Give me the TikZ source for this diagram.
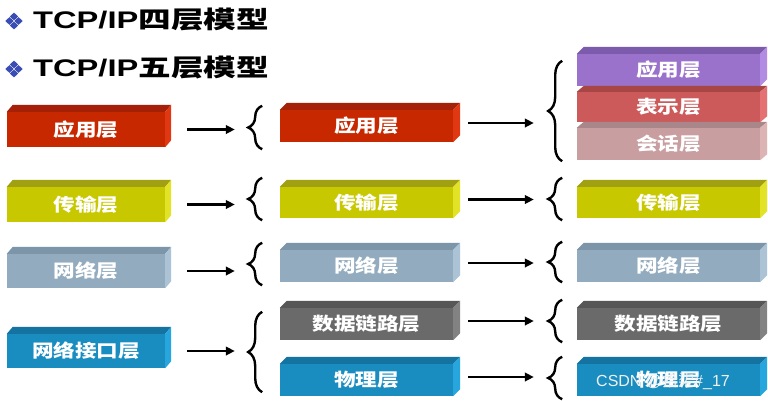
\documentclass[tikz,border=0pt]{standalone}
\usepackage{fontspec}
\setmainfont{Liberation Sans}
\newfontfamily\cjk{Noto Sans CJK SC}
\usetikzlibrary{arrows.meta,decorations.pathreplacing,shapes.geometric}
\newcommand\wide[2][1.2]{\scalebox{#1}[1]{#2}}
% colours: F front, T top, S side
\definecolor{redF}{HTML}{C82800}\definecolor{redT}{HTML}{A52008}\definecolor{redS}{HTML}{E03812}
\definecolor{yelF}{HTML}{C8C800}\definecolor{yelT}{HTML}{A0A012}\definecolor{yelS}{HTML}{E2E226}
\definecolor{gbF}{HTML}{93ABBE}\definecolor{gbT}{HTML}{7C95A8}\definecolor{gbS}{HTML}{ABC3D4}
\definecolor{blF}{HTML}{1A8DC0}\definecolor{blT}{HTML}{1473A0}\definecolor{blS}{HTML}{26A6DC}
\definecolor{dgF}{HTML}{6A6A6A}\definecolor{dgT}{HTML}{565656}\definecolor{dgS}{HTML}{828282}
\definecolor{puF}{HTML}{9A72CC}\definecolor{puT}{HTML}{7C5AAC}\definecolor{puS}{HTML}{B28CE2}
\definecolor{rdF}{HTML}{CC5A5A}\definecolor{rdT}{HTML}{A84646}\definecolor{rdS}{HTML}{E47272}
\definecolor{pkF}{HTML}{C89EA0}\definecolor{pkT}{HTML}{A8868A}\definecolor{pkS}{HTML}{DCB4B4}
\definecolor{bulC}{HTML}{3A4DB5}
\tikzset{
  front/.style={draw=none, inner sep=0pt, text=white, font=\cjk\bfseries\fontsize{18}{18}\selectfont},
  arr/.style={line width=2.6pt, -{Triangle[length=9pt,width=8.5pt]}},
  bnode/.style={draw=none, inner sep=0pt, minimum width=14pt},
  brc/.style={decorate, decoration={brace, amplitude=14pt}, line width=2.4pt},
  bul/.style={diamond, fill=bulC, inner sep=0pt, minimum width=8.5pt, minimum height=8pt, aspect=1},
}
\newcommand\lbox[9]{%
  \node[front, fill=#6F, minimum width=#4, minimum height=#5] (#1) at (#2,#3) {\wide{#9}};
  \fill[#6T] (#1.north west) -- ++(#7,-#8) -- ([shift={(#7,-#8)}]#1.north east) -- (#1.north east) -- cycle;
  \fill[#6S] (#1.north east) -- ++(#7,-#8) -- ([shift={(#7,-#8)}]#1.south east) -- (#1.south east) -- cycle;
}
\begin{document}
\begin{tikzpicture}[x=1pt,y=-1pt]
\useasboundingbox (0,0) rectangle (768,400);
\fill[white] (0,0) rectangle (768,400);
% bullets and titles
\foreach \n/\yy in {a/21, b/69}{
  \node[bul] (\n1) at (9.5,\yy) {};
  \node[bul] (\n2) at (18.5,\yy) {};
  \node[bul] (\n3) at (14,\yy-4.5) {};
  \node[bul] (\n4) at (14,\yy+4.5) {};
}
\node[anchor=west, inner sep=0pt] (t1) at (33,20) {\wide[1.36]{\fontsize{24}{24}\selectfont\bfseries TCP/IP{\cjk 四层模型}}};
\node[anchor=west, inner sep=0pt] (t2) at (33,68) {\wide[1.36]{\fontsize{24}{24}\selectfont\bfseries TCP/IP{\cjk 五层模型}}};
% left column
\lbox{L1}{86}{129.5}{158}{35}{red}{6}{7}{应用层}
\lbox{L2}{86}{204.5}{158}{35}{yel}{6}{7}{传输层}
\lbox{L3}{86}{271}{158}{34}{gb}{6}{7}{网络层}
\lbox{L4}{86}{351}{158}{34}{bl}{6}{7}{网络接口层}
% middle column
\lbox{M1}{366.5}{126}{173}{32}{red}{7}{7}{应用层}
\lbox{M2}{366.5}{202.5}{173}{31}{yel}{7}{7}{传输层}
\lbox{M3}{366.5}{266}{173}{32}{gb}{7}{7}{网络层}
\lbox{M4}{366.5}{324}{173}{32}{dg}{7}{7}{数据链路层}
\lbox{M5}{366.5}{380}{173}{32}{bl}{7}{7}{物理层}
% right column
\lbox{R1}{668.5}{70}{183}{32}{pu}{7}{7}{应用层}
\lbox{R2}{668.5}{107}{183}{30}{rd}{7}{6}{表示层}
\lbox{R3}{668.5}{144}{183}{32}{pk}{7}{6}{会话层}
\lbox{R4}{668.5}{202.5}{183}{31}{yel}{7}{7}{传输层}
\lbox{R5}{668.5}{266}{183}{32}{gb}{7}{7}{网络层}
\lbox{R6}{668.5}{324}{183}{32}{dg}{7}{7}{数据链路层}
\lbox{R7}{668.5}{380}{183}{32}{bl}{7}{7}{物理层}
% braces, left
\node[bnode, minimum height=43] (B1) at (255,127.5) {};
\node[bnode, minimum height=42] (B2) at (255,199) {};
\node[bnode, minimum height=42] (B3) at (255,264) {};
\node[bnode, minimum height=80] (B4) at (255,352) {};
% braces, right
\node[bnode, minimum height=100] (C1) at (555,111) {};
\node[bnode, minimum height=42] (C2) at (555,199) {};
\node[bnode, minimum height=40] (C3) at (555,262) {};
\node[bnode, minimum height=42] (C4) at (555,321) {};
\node[bnode, minimum height=42] (C5) at (555,378) {};
\foreach \b in {B1,B2,B3,B4,C1,C2,C3,C4,C5}{
  \draw[brc] (\b.south east) -- (\b.north east);
}
% arrows left -> middle braces
\draw[arr] ([xshift=22pt]L1.east) -- ([xshift=-13pt]L1.east -| B1.west);
\draw[arr] ([xshift=22pt]L2.east) -- ([xshift=-13pt]L2.east -| B2.west);
\draw[arr] ([xshift=22pt]L3.east) -- ([xshift=-13pt]L3.east -| B3.west);
\draw[arr] ([xshift=22pt]L4.east) -- ([xshift=-13pt]L4.east -| B4.west);
% arrows middle -> right braces
\draw[arr] ([xshift=15pt,yshift=3pt]M1.east) -- ([xshift=-14pt,yshift=3pt]M1.east -| C1.west);
\draw[arr] ([xshift=15pt,yshift=3pt]M2.east) -- ([xshift=-14pt,yshift=3pt]M2.east -| C2.west);
\draw[arr] ([xshift=15pt,yshift=3pt]M3.east) -- ([xshift=-14pt,yshift=3pt]M3.east -| C3.west);
\draw[arr] ([xshift=15pt,yshift=3pt]M4.east) -- ([xshift=-14pt,yshift=3pt]M4.east -| C4.west);
\draw[arr] ([xshift=15pt,yshift=3pt]M5.east) -- ([xshift=-14pt,yshift=3pt]M5.east -| C5.west);
% watermark
\node[anchor=west, inner sep=0pt, text=white!88!gray] (wm) at (596,381) {\fontsize{16}{16}\selectfont CSDN @{\cjk 拾柒}\#\_17};
\end{tikzpicture}
\end{document}
